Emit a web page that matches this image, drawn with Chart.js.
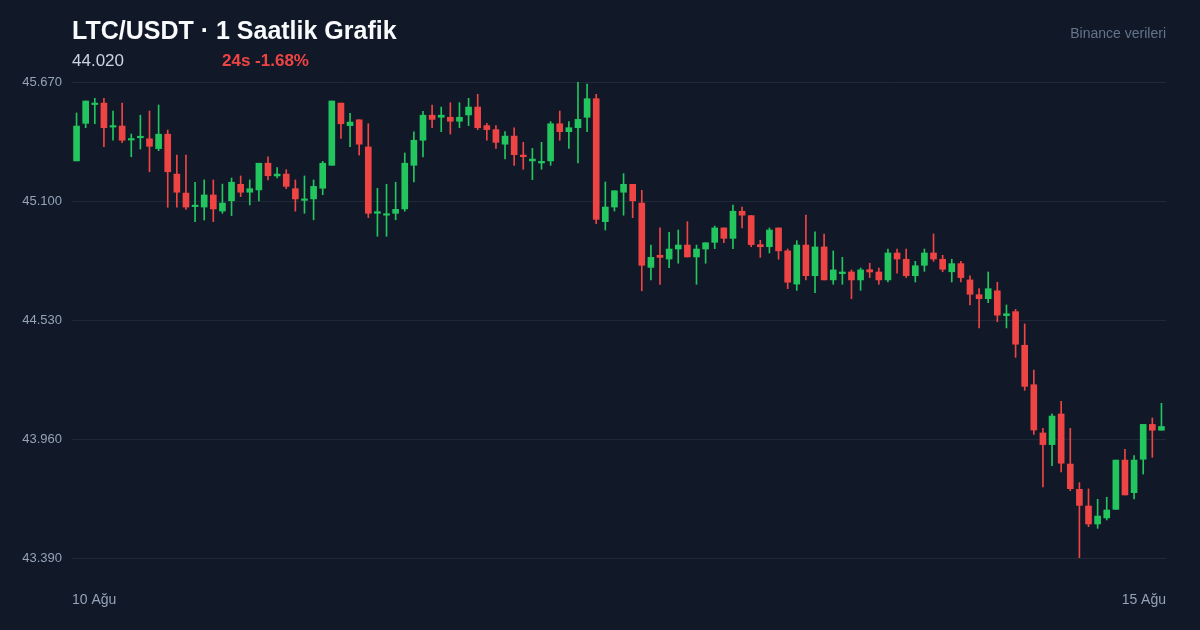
<!DOCTYPE html>
<html>
<head>
<meta charset="utf-8">
<script src="https://cdn.jsdelivr.net/npm/chart.js@4/dist/chart.umd.min.js"></script>
<style>
  html, body { margin: 0; padding: 0; background: #111827; }
  body { width: 1200px; height: 630px; position: relative; overflow: hidden; font-family: "Liberation Sans", Arial, sans-serif; }
  #wrap { position: absolute; left: 0; top: 0; width: 1200px; height: 630px; }
  .t { position: absolute; line-height: 1; white-space: nowrap; }
  #title { left: 72px; top: 18px; font-size: 25px; font-weight: bold; color: #f8fafc; }
  #price { left: 72px; top: 52px; font-size: 17px; color: #cbd5e1; }
  #chg { left: 222px; top: 52px; font-size: 17px; font-weight: bold; color: #ef4444; }
  #src { right: 34px; top: 26px; font-size: 14px; color: #64748b; }
</style>
</head>
<body>
<div id="wrap"><canvas id="c" width="1200" height="630"></canvas></div>
<div class="t" id="title">LTC/USDT · 1 Saatlik Grafik</div>
<div class="t" id="price">44.020</div>
<div class="t" id="chg">24s -1.68%</div>
<div class="t" id="src">Binance verileri</div>
<script>
const dateLabels = ['10 Ağu', '15 Ağu'];
const yTicks = [43.39, 43.96, 44.53, 45.10, 45.67];

const opens = [
  45.292, 45.472, 45.562, 45.569, 45.454, 45.459, 45.392, 45.403, 45.398, 45.351,
  45.420, 45.229, 45.138, 45.073, 45.071, 45.129, 45.052, 45.101, 45.180, 45.142,
  45.153, 45.281, 45.220, 45.229, 45.159, 45.103, 45.110, 45.161, 45.271, 45.569,
  45.461, 45.489, 45.359, 45.041, 45.032, 45.041, 45.062, 45.271, 45.391, 45.511,
  45.501, 45.501, 45.482, 45.512, 45.550, 45.461, 45.442, 45.372, 45.411, 45.320,
  45.292, 45.282, 45.292, 45.470, 45.432, 45.451, 45.501, 45.590, 45.001, 45.071,
  45.142, 45.180, 45.090, 44.782, 44.840, 44.822, 44.870, 44.889, 44.832, 44.870,
  44.902, 44.971, 44.921, 45.051, 45.030, 44.891, 44.881, 44.971, 44.861, 44.702,
  44.889, 44.742, 44.880, 44.722, 44.752, 44.760, 44.722, 44.771, 44.760, 44.722,
  44.851, 44.821, 44.742, 44.792, 44.851, 44.821, 44.761, 44.800, 44.722, 44.651,
  44.632, 44.670, 44.551, 44.570, 44.409, 44.220, 43.989, 43.933, 44.080, 43.840,
  43.719, 43.639, 43.553, 43.582, 43.623, 43.859, 43.703, 43.863, 44.030, 44.002
];
const highs = [
  45.522, 45.579, 45.592, 45.592, 45.531, 45.569, 45.421, 45.511, 45.531, 45.560,
  45.440, 45.320, 45.320, 45.190, 45.201, 45.201, 45.181, 45.210, 45.220, 45.201,
  45.281, 45.311, 45.260, 45.250, 45.201, 45.220, 45.201, 45.290, 45.579, 45.569,
  45.520, 45.489, 45.470, 45.161, 45.180, 45.190, 45.330, 45.431, 45.530, 45.560,
  45.550, 45.571, 45.571, 45.592, 45.611, 45.472, 45.461, 45.432, 45.451, 45.381,
  45.352, 45.381, 45.480, 45.531, 45.480, 45.670, 45.660, 45.611, 45.191, 45.149,
  45.231, 45.180, 45.151, 44.889, 44.971, 44.950, 44.961, 45.001, 44.889, 44.900,
  44.980, 44.971, 45.081, 45.071, 45.030, 44.912, 44.971, 44.971, 44.870, 44.910,
  45.032, 44.952, 44.942, 44.861, 44.830, 44.770, 44.779, 44.802, 44.779, 44.870,
  44.870, 44.870, 44.811, 44.870, 44.942, 44.840, 44.821, 44.811, 44.741, 44.680,
  44.760, 44.711, 44.602, 44.581, 44.511, 44.290, 44.011, 44.081, 44.141, 44.011,
  43.751, 43.721, 43.671, 43.681, 43.859, 43.911, 43.880, 44.030, 44.061, 44.131
];
const lows = [
  45.292, 45.451, 45.470, 45.360, 45.391, 45.379, 45.312, 45.349, 45.240, 45.341,
  45.070, 45.070, 45.060, 45.001, 45.009, 45.001, 45.041, 45.030, 45.121, 45.081,
  45.100, 45.201, 45.210, 45.159, 45.051, 45.041, 45.010, 45.130, 45.271, 45.400,
  45.360, 45.320, 45.020, 44.931, 44.931, 45.010, 45.051, 45.191, 45.311, 45.451,
  45.432, 45.421, 45.451, 45.461, 45.442, 45.391, 45.352, 45.301, 45.271, 45.252,
  45.202, 45.252, 45.271, 45.391, 45.352, 45.282, 45.432, 44.991, 44.961, 45.052,
  45.032, 45.020, 44.670, 44.722, 44.701, 44.781, 44.802, 44.832, 44.701, 44.802,
  44.872, 44.900, 44.872, 44.971, 44.881, 44.830, 44.851, 44.821, 44.680, 44.672,
  44.722, 44.661, 44.722, 44.701, 44.701, 44.632, 44.672, 44.733, 44.701, 44.712,
  44.754, 44.733, 44.712, 44.763, 44.811, 44.761, 44.712, 44.712, 44.602, 44.492,
  44.613, 44.522, 44.492, 44.351, 44.193, 43.982, 43.731, 43.832, 43.802, 43.712,
  43.390, 43.540, 43.532, 43.572, 43.623, 43.692, 43.673, 43.792, 43.872, 44.002
];
const closes = [
  45.459, 45.579, 45.567, 45.451, 45.459, 45.391, 45.398, 45.410, 45.362, 45.420,
  45.240, 45.142, 45.071, 45.079, 45.129, 45.062, 45.090, 45.190, 45.142, 45.159,
  45.281, 45.221, 45.229, 45.170, 45.110, 45.110, 45.170, 45.281, 45.579, 45.470,
  45.478, 45.372, 45.041, 45.049, 45.039, 45.060, 45.281, 45.391, 45.511, 45.491,
  45.511, 45.482, 45.501, 45.550, 45.451, 45.442, 45.381, 45.411, 45.322, 45.312,
  45.301, 45.290, 45.470, 45.432, 45.451, 45.491, 45.590, 45.012, 45.071, 45.149,
  45.180, 45.101, 44.792, 44.830, 44.830, 44.870, 44.889, 44.832, 44.870, 44.900,
  44.971, 44.921, 45.051, 45.032, 44.891, 44.881, 44.961, 44.861, 44.711, 44.889,
  44.742, 44.880, 44.722, 44.770, 44.760, 44.722, 44.770, 44.760, 44.722, 44.851,
  44.822, 44.742, 44.790, 44.851, 44.822, 44.773, 44.800, 44.733, 44.653, 44.632,
  44.680, 44.553, 44.560, 44.414, 44.212, 44.003, 43.933, 44.070, 43.844, 43.722,
  43.642, 43.553, 43.591, 43.620, 43.859, 43.692, 43.859, 44.030, 44.002, 44.020
];

const UP = '#22c55e', DOWN = '#ef4444';
const colors = opens.map((o, i) => closes[i] >= o ? UP : DOWN);
const bodies = opens.map((o, i) => ({ x: i, y: [o, closes[i]] }));
const wicks = lows.map((l, i) => ({ x: i, y: [l, highs[i]] }));
const n = opens.length;

new Chart(document.getElementById('c'), {
  type: 'bar',
  data: {
    datasets: [
      { data: bodies, backgroundColor: colors, borderWidth: 0, barThickness: 6, grouped: false, minBarLength: 1.5 },
      { data: wicks, backgroundColor: colors, borderWidth: 0, barThickness: 1, grouped: false }
    ]
  },
  options: {
    responsive: false,
    animation: false,
    events: [],
    layout: { autoPadding: false, padding: { top: 82, right: 34, left: 0, bottom: 0 } },
    plugins: { legend: { display: false }, tooltip: { enabled: false } },
    scales: {
      x: {
        type: 'linear',
        offset: false,
        min: -0.5,
        max: n - 0.5,
        grid: { display: false, drawTicks: false },
        border: { display: false },
        afterBuildTicks: (axis) => { axis.ticks = [{ value: -0.5 }, { value: n - 0.5 }]; },
        afterFit: (axis) => { axis.height = 72; },
        ticks: {
          autoSkip: false,
          maxRotation: 0,
          align: 'inner',
          padding: 34,
          color: '#94a3b8',
          font: { family: 'Liberation Sans', size: 14 },
          callback: (v) => v < 0 ? dateLabels[0] : dateLabels[1]
        }
      },
      y: {
        min: yTicks[0],
        max: yTicks[yTicks.length - 1],
        grid: { color: '#1f2937', lineWidth: 1, drawTicks: false },
        border: { display: false },
        afterBuildTicks: (axis) => { axis.ticks = yTicks.map(v => ({ value: v })); },
        afterFit: (axis) => { axis.width = 72; },
        ticks: {
          padding: 10,
          color: '#94a3b8',
          font: { family: 'Liberation Sans', size: 13 },
          callback: (v) => Number(v).toFixed(3)
        }
      }
    }
  }
});
</script>
</body>
</html>
